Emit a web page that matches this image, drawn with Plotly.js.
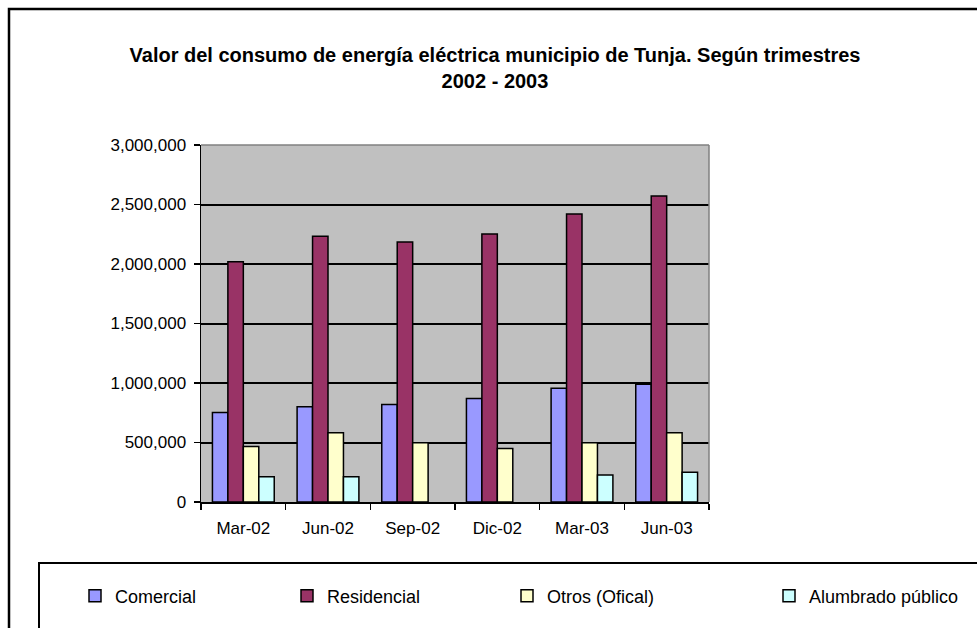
<!DOCTYPE html>
<html>
<head>
<meta charset="utf-8">
<script src="https://cdn.plot.ly/plotly-3.0.1.min.js"></script>
<style>html,body{margin:0;padding:0;background:#fff;}#chart{width:977px;height:628px;}</style>
</head>
<body>
<div id="chart"></div>
<script>
const categories = ["Mar-02", "Jun-02", "Sep-02", "Dic-02", "Mar-03", "Jun-03"];
const comercial = [752000, 800000, 820000, 870000, 955000, 990000];
const residencial = [2018000, 2233000, 2185000, 2252000, 2421000, 2572000];
const otros = [466000, 581000, 497000, 449000, 497000, 581000];
const alumbrado = [213000, 213000, null, null, 227000, 250000];
const seriesNames = ["Comercial", "Residencial", "Otros (Ofical)", "Alumbrado público"];
const yTicks = [0, 500000, 1000000, 1500000, 2000000, 2500000, 3000000];
const titleLine1 = "Valor del consumo de energía eléctrica municipio de Tunja. Según trimestres";
const titleLine2 = "2002 - 2003";

const FONT = "'Liberation Sans', Arial, sans-serif";
const colors = ["#9999FF", "#993366", "#FFFFCC", "#CCFFFF"];
const seriesValues = [comercial, residencial, otros, alumbrado];
const legendIds = ["legend", "legend2", "legend3", "legend4"];

const traces = seriesValues.map((vals, i) => ({
  type: "bar",
  name: seriesNames[i],
  x: categories,
  y: vals,
  marker: {color: colors[i], line: {color: "#000000", width: 1.5}},
  legend: legendIds[i],
  hoverinfo: "x+y+name"
}));

// plot area in pixels: left 201, right 709, top 145, bottom 502
const L = 201, R = 709, T = 145, B = 502;
const W = R - L, H = B - T;
const px = x => (x - L) / W;
const py = y => (B - y) / H;

function legendAt(xText) {
  return {
    x: px(xText - 36), y: py(596), xanchor: "left", yanchor: "middle",
    orientation: "h", bgcolor: "rgba(0,0,0,0)", borderwidth: 0,
    font: {family: FONT, size: 18, color: "#000"}, itemwidth: 30
  };
}

const titleFont = {family: FONT, size: 20, color: "#000", weight: "bold"};

const layout = {
  width: 977, height: 628, autosize: false,
  margin: {l: L, r: 977 - R, t: T, b: 628 - B, pad: 0},
  paper_bgcolor: "#FFFFFF",
  plot_bgcolor: "#C0C0C0",
  barmode: "group",
  bargap: 0.27,
  bargroupgap: 0,
  title: {
    text: titleLine1 + "<br>" + titleLine2,
    font: titleFont,
    x: 495 / 977, xanchor: "center", xref: "container",
    y: 1 - 62 / 628, yanchor: "top", yref: "container"
  },
  xaxis: {
    type: "category",
    tickson: "boundaries",
    ticks: "outside", ticklen: 6, tickwidth: 1.5, tickcolor: "#000",
    showline: true, linecolor: "#000", linewidth: 1.5,
    showgrid: false, zeroline: false,
    tickfont: {family: FONT, size: 17, color: "#000"},
    ticklabelstandoff: 10
  },
  yaxis: {
    range: [0, 3000000],
    tickvals: yTicks,
    tickformat: ",d",
    ticks: "outside", ticklen: 6, tickwidth: 1.5, tickcolor: "#000",
    showline: true, linecolor: "#000", linewidth: 1.5,
    showgrid: true, gridcolor: "#000", gridwidth: 2,
    zeroline: false,
    tickfont: {family: FONT, size: 17, color: "#000"},
    ticklabelstandoff: 4
  },
  legend: legendAt(111),
  legend2: legendAt(323),
  legend3: legendAt(543),
  legend4: legendAt(805),
  shapes: [
    {type: "rect", xref: "paper", yref: "paper", x0: px(9), x1: px(1000), y0: py(9), y1: py(660),
     line: {color: "#000", width: 2.5}, fillcolor: "rgba(0,0,0,0)", layer: "above"},
    {type: "rect", xref: "paper", yref: "paper", x0: px(39), x1: px(1000), y0: py(563), y1: py(660),
     line: {color: "#000", width: 2}, fillcolor: "rgba(0,0,0,0)", layer: "above"},
    {type: "line", xref: "paper", yref: "paper", x0: 0, x1: 1, y0: 1, y1: 1,
     line: {color: "#808080", width: 1.5}, layer: "above"},
    {type: "line", xref: "paper", yref: "paper", x0: 1, x1: 1, y0: 0, y1: 1,
     line: {color: "#808080", width: 1.5}, layer: "above"}
  ],
  showlegend: true
};

Plotly.newPlot("chart", traces, layout, {displayModeBar: false, staticPlot: true});
</script>
</body>
</html>
